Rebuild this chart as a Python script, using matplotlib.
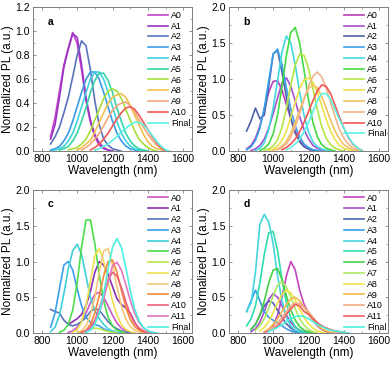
import numpy as np
import matplotlib
matplotlib.use("Agg")
import matplotlib.pyplot as plt
from matplotlib.ticker import MultipleLocator

plt.rcParams['font.family'] = ['Liberation Sans', 'DejaVu Sans']

STEP = 25  # nm between read-off points

# ---- panel a ----
a_labels = ['A0', 'A1', 'A2', 'A3', 'A4', 'A5', 'A6', 'A8', 'A9', 'A10', 'Final']
a_colors = ['#c443c8', '#9a35c4', '#5a72bc', '#3a9ce6', '#3fd3e0', '#33d6a6',
            '#a6e03c', '#f2c050', '#f3a878', '#f05a55', '#5af2e2']
a_start = [850, 850, 850, 850, 850, 900, 950, 1000, 1025, 1075, 1100]
a_pl = [
    [0.12, 0.28, 0.5, 0.72, 0.86, 0.99, 0.9, 0.68, 0.42, 0.24, 0.12, 0.05, 0.02, 0.01, 0.0],
    [0.10, 0.22, 0.45, 0.7, 0.85, 0.98, 0.95, 0.72, 0.45, 0.26, 0.14, 0.07, 0.03, 0.01, 0.0],
    [0.06, 0.12, 0.2, 0.32, 0.45, 0.62, 0.8, 0.92, 0.88, 0.68, 0.42, 0.22, 0.1, 0.05, 0.02, 0.01, 0.0],
    [.01, .02, .04, .085, .15, .25, .37, .49, .60, .66, .66, .60, .49, .37, .25, .15, .085, .043, .02, .01, 0],
    [0, .01, .02, .04, .085, .15, .25, .37, .49, .60, .66, .66, .60, .49, .37, .25, .15, .085, .043, .02, .01, 0],
    [.01, .02, .04, .085, .15, .25, .36, .49, .59, .65, .65, .59, .49, .36, .25, .15, .085, .043, .02, .01, 0],
    [.01, .02, .03, .06, .10, .17, .26, .35, .44, .50, .52, .50, .44, .35, .26, .17, .10, .06, .03, .01, 0],
    [.01, .03, .06, .09, .16, .24, .32, .40, .45, .47, .48, .45, .38, .30, .22, .14, .08, .04, .02, .01, 0],
    [.01, .03, .06, .10, .15, .21, .28, .34, .38, .40, .41, .38, .33, .26, .2, .14, .09, .05, .02, 0],
    [.01, .03, .06, .1, .15, .21, .27, .32, .36, .37, .35, .3, .24, .18, .12, .07, .03, 0],
    [.01, .02, .04, .06, .09, .12, .16, .19, .22, .24, .24, .22, .18, .13, .08, .04, .01, 0],
]

# ---- panel b ----
b_labels = ['A0', 'A1', 'A2', 'A3', 'A4', 'A5', 'A6', 'A7', 'A8', 'A9', 'A10', 'Final']
b_colors = ['#b93fb8', '#a54fcf', '#4f63a8', '#3aa0ea', '#42d8e0', '#45da45',
            '#b2e646', '#ece24a', '#f2c15e', '#f4b488', '#f05555', '#5af2e2']
b_start = [850, 875, 850, 850, 900, 925, 950, 975, 1000, 1025, 1050, 1075]
b_pl = [
    [.03, .08, .18, .35, .58, .82, .97, .98, .85, .65, .45, .28, .15, .07, .03, .01, 0],
    [.01, .03, .08, .17, .32, .52, .74, .95, 1.02, .9, .7, .48, .3, .17, .08, .04, .02, 0],
    [.28, .42, .6, .45, .5, .9, 1.35, 1.4, 1.1, .75, .45, .25, .13, .06, .03, .01, 0],
    [.02, .06, .15, .32, .6, .98, 1.35, 1.42, 1.2, .88, .58, .35, .2, .1, .05, .02, .01, 0],
    [.01, .04, .12, .3, .6, .98, 1.38, 1.6, 1.5, 1.2, .82, .5, .27, .13, .06, .03, .01, 0],
    [.01, .04, .1, .24, .5, .9, 1.33, 1.65, 1.72, 1.5, 1.12, .72, .4, .2, .09, .04, .02, 0],
    [.01, .03, .07, .16, .33, .6, .92, 1.2, 1.35, 1.33, 1.15, .87, .58, .34, .18, .09, .04, .02, 0],
    [.01, .03, .07, .15, .28, .47, .68, .87, .99, 1.02, .96, .82, .63, .44, .28, .16, .08, .04, .02, 0],
    [.01, .03, .07, .14, .25, .4, .57, .74, .87, .92, .88, .76, .6, .43, .28, .17, .09, .05, .02, 0],
    [.02, .05, .1, .2, .34, .52, .72, .9, 1.04, 1.1, 1.03, .88, .68, .48, .3, .18, .1, .05, .02, 0],
    [.02, .05, .1, .17, .27, .4, .55, .7, .84, .92, .9, .8, .64, .47, .32, .19, .1, .05, .01],
    [.02, .05, .1, .17, .27, .4, .55, .7, .8, .8, .72, .58, .44, .32, .2, .11, .05, .01],
]

# ---- panel c ----
c_labels = ['A0', 'A1', 'A2', 'A3', 'A4', 'A5', 'A6', 'A7', 'A8', 'A9', 'A10', 'A11', 'Final']
c_colors = ['#c955c8', '#8a2fb0', '#5a72bc', '#3aa0ea', '#3fd0d8', '#4cdc4c',
            '#bce84a', '#f0e050', '#f4c878', '#f28a3a', '#f0607a', '#e276bc', '#4af0e0']
c_start = [950, 950, 850, 850, 850, 900, 1000, 975, 1000, 1025, 1025, 1050, 1050]
c_pl = [
    [.01, .03, .08, .16, .28, .42, .54, .57, .5, .38, .25, .14, .07, .03, .01, 0],
    [.12, .16, .2, .26, .38, .58, .85, 1.0, .95, .82, .65, .48, .4, .35, .28, .15, .06, .02, 0],
    [.33, .3, .28, .18, .12, .1, .12, .16, .22, .3, .34, .32, .24, .16, .1, .06, .03, .01, 0],
    [.08, .28, .62, .95, 1.0, .88, .62, .38, .22, .15, .12, .1, .06, .03, .01, 0],
    [.02, .08, .25, .55, .9, 1.15, 1.24, 1.1, .8, .5, .32, .2, .12, .06, .03, .01, 0],
    [.01, .04, .12, .32, .7, 1.2, 1.58, 1.58, 1.25, .82, .45, .22, .1, .04, .02, 0],
    [0, .01, .03, .06, .07, .06, .04, .02, .01, 0],
    [.01, .05, .15, .38, .72, 1.08, 1.18, 1.0, .72, .45, .25, .12, .05, .02, 0],
    [.01, .03, .1, .25, .5, .85, 1.15, 1.18, .95, .65, .38, .2, .09, .04, .01, 0],
    [.01, .04, .12, .28, .52, .8, 1.0, 1.02, .85, .6, .36, .19, .09, .04, .01, 0],
    [.01, .03, .08, .18, .34, .54, .74, .85, .8, .64, .44, .26, .14, .07, .03, .01, 0],
    [.02, .06, .14, .28, .48, .72, .94, .99, .88, .68, .46, .28, .15, .07, .03, .01, 0],
    [.01, .04, .12, .28, .55, .9, 1.2, 1.32, 1.2, .92, .6, .34, .17, .08, .03, .01, 0],
]

# ---- panel d ----
d_labels = ['A0', 'A1', 'A2', 'A3', 'A4', 'A5', 'A6', 'A7', 'A8', 'A9', 'A10', 'A11', 'Final']
d_colors = ['#c443c0', '#a84fd0', '#4f63b0', '#3a9ce6', '#45d6dc', '#30dcb0',
            '#46d046', '#aeea62', '#f0e448', '#f2b84a', '#f4ac86', '#f06060', '#4af0e0']
d_start = [950, 875, 875, 850, 850, 850, 875, 900, 925, 950, 975, 1000, 975]
d_pl = [
    [.01, .03, .1, .25, .5, .8, 1.0, .88, .6, .4, .28, .18, .1, .05, .02, 0],
    [.02, .06, .15, .3, .47, .55, .5, .38, .25, .15, .08, .04, .02, 0],
    [.05, .12, .25, .38, .45, .42, .32, .22, .13, .07, .03, .01, 0],
    [.3, .45, .6, .45, .3, .22, .18, .14, .1, .06, .03, .01, 0],
    [.3, .42, .85, 1.52, 1.66, 1.55, 1.25, .8, .45, .22, .1, .04, .02, 0],
    [.1, .2, .38, .7, 1.1, 1.4, 1.42, 1.15, .75, .42, .2, .09, .04, .01, 0],
    [.05, .12, .25, .45, .7, .88, .9, .75, .52, .32, .18, .09, .04, .02, 0],
    [.04, .1, .2, .35, .52, .67, .72, .64, .5, .34, .2, .11, .05, .02, 0],
    [.03, .08, .16, .28, .42, .54, .6, .56, .46, .33, .22, .13, .07, .03, .01, 0],
    [.02, .06, .12, .2, .3, .4, .48, .5, .45, .36, .27, .18, .11, .06, .03, .01, 0],
    [.04, .08, .14, .22, .3, .38, .42, .41, .36, .3, .22, .15, .1, .06, .04, .02, .01, 0],
    [.05, .1, .17, .26, .34, .4, .38, .3, .26, .2, .14, .1, .07, .05, .03, .02, .01, 0],
    [.02, .05, .08, .12, .16, .2, .23, .24, .23, .2, .16, .12, .09, .06, .04, .03, .02, .01, 0],
]


def draw_panel(ax, labels, colors, starts, pl, ymax, ymajor, letter):
    for lab, col, s, y in zip(labels, colors, starts, pl):
        x = s + STEP * np.arange(len(y))
        ax.plot(x, y, color=col, lw=1.2, label=lab)
    ax.set_xlim(750, 1650)
    ax.set_ylim(0, ymax)
    ax.xaxis.set_major_locator(MultipleLocator(200))
    ax.xaxis.set_minor_locator(MultipleLocator(100))
    ax.yaxis.set_major_locator(MultipleLocator(ymajor))
    ax.yaxis.set_minor_locator(MultipleLocator(ymajor / 2))
    ax.tick_params(which='both', direction='in', top=True, right=True,
                   color='#808080', labelsize=7.5, pad=2)
    ax.tick_params(which='major', length=2.5, width=0.6)
    ax.tick_params(which='minor', length=1.5, width=0.5)
    for sp in ax.spines.values():
        sp.set_color('#808080')
        sp.set_linewidth(0.7)
    ax.set_xlabel('Wavelength (nm)', fontsize=8.5, labelpad=1)
    ax.set_ylabel('Normalized PL (a.u.)', fontsize=8.5, labelpad=1)
    ax.text(0.09, 0.90, letter, transform=ax.transAxes, fontsize=7.5,
            fontweight='bold', va='center')
    ax.legend(loc='upper right', bbox_to_anchor=(0.99, 0.975), frameon=False,
              fontsize=6.4, handlelength=2.3, handletextpad=0.3,
              labelspacing=0.2, borderaxespad=0, borderpad=0)


fig = plt.figure(figsize=(3.92, 3.66), dpi=100)
ax_a = fig.add_axes([0.084, 0.587, 0.406, 0.393])
ax_b = fig.add_axes([0.584, 0.587, 0.406, 0.393])
ax_c = fig.add_axes([0.084, 0.090, 0.406, 0.391])
ax_d = fig.add_axes([0.584, 0.090, 0.406, 0.391])

draw_panel(ax_a, a_labels, a_colors, a_start, a_pl, 1.2, 0.2, 'a')
draw_panel(ax_b, b_labels, b_colors, b_start, b_pl, 2.0, 0.5, 'b')
draw_panel(ax_c, c_labels, c_colors, c_start, c_pl, 2.0, 0.5, 'c')
draw_panel(ax_d, d_labels, d_colors, d_start, d_pl, 2.0, 0.5, 'd')

fig.savefig('out.png', dpi=100)
